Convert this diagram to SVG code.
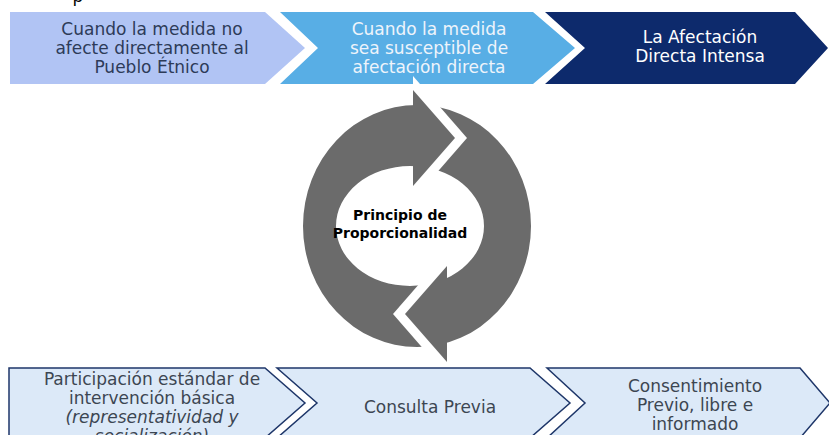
<svg xmlns="http://www.w3.org/2000/svg" width="829" height="435" viewBox="0 0 829 435">
<style>
text{font-family:"DejaVu Sans","Verdana",sans-serif;font-size:17px;text-anchor:middle}
.t1{fill:#2d3b58}
.t2{fill:#eef4fb}
.t3{fill:#ffffff}
.b{fill:#dce9f8;stroke:#1e3669;stroke-width:1.5}
.tb{fill:#3c4652}
.ring{fill:#6b6b6b}
.ctr{font-weight:bold;font-size:14px;fill:#000}
</style>
<rect width="829" height="435" fill="#ffffff"/>
<text x="78" y="2" style="fill:#000">p</text>
<g id="top1">
<polygon points="10,12 265,12 305,48 265,84 10,84" fill="#b1c4f4"/>
<text class="t1" x="152" y="35">Cuando la medida no</text>
<text class="t1" x="152" y="54">afecte directamente al</text>
<text class="t1" x="152" y="73">Pueblo Étnico</text>
</g>
<g id="top2">
<polygon points="280,12 533,12 575,48 533,84 280,84 318,48" fill="#58aee5"/>
<text class="t2" x="429" y="35">Cuando la medida</text>
<text class="t2" x="429" y="54">sea susceptible de</text>
<text class="t2" x="429" y="73">afectación directa</text>
</g>
<g id="top3">
<polygon points="545,12 795,12 828,48 795,84 545,84 585,48" fill="#0d2a6c"/>
<text class="t3" x="700" y="43">La Afectación</text>
<text class="t3" x="700" y="62">Directa Intensa</text>
</g>
<g id="cycle">
<path class="ring" fill-rule="evenodd" d="M303,226 a114,121 0 1,0 228,0 a114,121 0 1,0 -228,0 Z M336,226 a74,60 0 1,0 148,0 a74,60 0 1,0 -148,0 Z"/>
<g id="head-top">
<polygon points="413,76 467,138 413,200" fill="#ffffff"/>
<polygon class="ring" points="413,90 455,138 413,186"/>
</g>
<g id="head-bottom" transform="rotate(180 430 226)">
<polygon points="413,76 467,138 413,200" fill="#ffffff"/>
<polygon class="ring" points="413,90 455,138 413,186"/>
</g>
<text class="ctr" x="400" y="220">Principio de</text>
<text class="ctr" x="400" y="238">Proporcionalidad</text>
</g>
<g id="bot1">
<polygon class="b" points="9,368 265,368 305,403 265,438 9,438"/>
<text class="tb" x="152" y="385">Participación estándar de</text>
<text class="tb" x="152" y="404">intervención básica</text>
<text class="tb" x="152" y="423" font-style="italic">(representatividad y</text>
<text class="tb" x="152" y="442" font-style="italic">socialización)</text>
</g>
<g id="bot2">
<polygon class="b" points="277,368 530,368 570,403 530,438 277,438 317,403"/>
<text class="tb" x="430" y="413">Consulta Previa</text>
</g>
<g id="bot3">
<polygon class="b" points="547,368 800,368 830,403 800,438 547,438 585,403"/>
<text class="tb" x="695" y="392">Consentimiento</text>
<text class="tb" x="695" y="411">Previo, libre e</text>
<text class="tb" x="695" y="430">informado</text>
</g>
</svg>
